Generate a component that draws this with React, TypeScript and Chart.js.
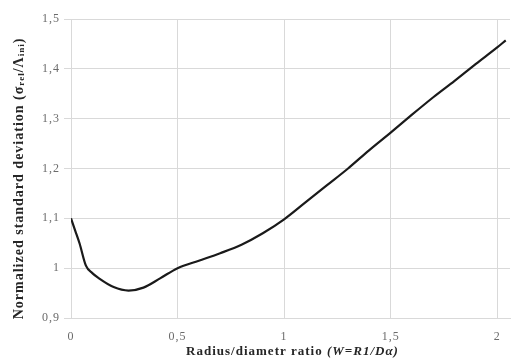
import React, { useEffect, useRef } from "react";
import { Chart, registerables } from "chart.js";

Chart.register(...registerables);

const ratioX = [0, 0.02, 0.04, 0.07, 0.1, 0.13, 0.2, 0.27, 0.34, 0.42, 0.5, 0.6, 0.7, 0.8, 0.9, 1.0, 1.1, 1.2, 1.3, 1.4, 1.5, 1.6, 1.7, 1.8, 1.9, 2.0, 2.04];
const deviationY = [1.1, 1.075, 1.05, 1.005, 0.99, 0.98, 0.962, 0.955, 0.961, 0.98, 1.0, 1.015, 1.03, 1.047, 1.07, 1.098, 1.132, 1.166, 1.2, 1.237, 1.272, 1.308, 1.343, 1.376, 1.41, 1.443, 1.457];
const xTickValues = [0, 0.5, 1, 1.5, 2];
const yTickValues = [0.9, 1, 1.1, 1.2, 1.3, 1.4, 1.5];
const xTitleMain = "Radius/diametr ratio ";
const xTitleItalic = "(W=R1/Dα)";
const yTitleParts = [
  { text: "Normalized standard deviation (σ", sub: false },
  { text: "rel", sub: true },
  { text: "/Λ", sub: false },
  { text: "ini", sub: true },
  { text: ")", sub: false },
];

const fmt = (v: number) => String(Math.round(v * 10) / 10).replace(".", ",");
const FAMILY = "'Liberation Serif', 'Times New Roman', serif";

const titlesPlugin = {
  id: "customTitles",
  beforeDraw(chart: any) {
    (chart.ctx as any).letterSpacing = "1px";
  },
  afterDraw(chart: any) {
    const ctx = chart.ctx as CanvasRenderingContext2D;
    const area = chart.chartArea;
    ctx.save();
    (ctx as any).letterSpacing = "1px";
    ctx.fillStyle = "#262626";
    ctx.textBaseline = "middle";
    ctx.textAlign = "left";
    // x title
    const boldFont = `bold 13px ${FAMILY}`;
    const italFont = `italic bold 13px ${FAMILY}`;
    ctx.font = boldFont;
    const w1 = ctx.measureText(xTitleMain).width;
    ctx.font = italFont;
    const w2 = ctx.measureText(xTitleItalic).width;
    const cx = (area.left + area.right) / 2 + 2;
    let x0 = cx - (w1 + w2) / 2;
    const yx = 352;
    ctx.font = boldFont;
    ctx.fillText(xTitleMain, x0, yx);
    ctx.font = italFont;
    ctx.fillText(xTitleItalic, x0 + w1, yx);
    // y title
    const mainF = `bold 14px ${FAMILY}`;
    const subF = `bold 9px ${FAMILY}`;
    let total = 0;
    const widths = yTitleParts.map((p) => {
      ctx.font = p.sub ? subF : mainF;
      const w = ctx.measureText(p.text).width;
      total += w;
      return w;
    });
    ctx.translate(19, (area.top + area.bottom) / 2 + 10);
    ctx.rotate(-Math.PI / 2);
    let px = -total / 2;
    yTitleParts.forEach((p, i) => {
      ctx.font = p.sub ? subF : mainF;
      ctx.fillText(p.text, px, p.sub ? 3 : 0);
      px += widths[i];
    });
    ctx.restore();
    (ctx as any).letterSpacing = "0px";
  },
};

export default function App() {
  const ref = useRef<HTMLCanvasElement | null>(null);
  useEffect(() => {
    document.body.style.margin = "0";
    const ctx = ref.current!;
    const chart = new Chart(ctx, {
      type: "line",
      data: {
        datasets: [
          {
            data: ratioX.map((x, i) => ({ x, y: deviationY[i] })),
            borderColor: "#1a1a1a",
            borderWidth: 2.2,
            pointRadius: 0,
            cubicInterpolationMode: "monotone",
            fill: false,
          },
        ],
      },
      options: {
        animation: false,
        responsive: false,
        devicePixelRatio: 1,
        layout: { padding: { top: 19, right: 8, left: 0, bottom: 0 } },
        plugins: { legend: { display: false }, tooltip: { enabled: false } },
        scales: {
          x: {
            type: "linear",
            min: 0,
            max: 2.06,
            afterBuildTicks: (s: any) => {
              s.ticks = xTickValues.map((v) => ({ value: v }));
            },
            afterFit: (s: any) => {
              s.height = 42;
            },
            grid: { color: "#d9d9d9", drawTicks: false, lineWidth: 1 },
            border: { display: true, color: "#d9d9d9" },
            ticks: {
              padding: 12,
              color: "#6b6b6b",
              font: { family: FAMILY, size: 12 },
              callback: (v: any) => fmt(Number(v)),
            },
          },
          y: {
            type: "linear",
            min: 0.9,
            max: 1.5,
            afterBuildTicks: (s: any) => {
              s.ticks = yTickValues.map((v) => ({ value: v }));
            },
            afterFit: (s: any) => {
              s.width = 71;
            },
            grid: { color: "#d9d9d9", tickLength: 7, lineWidth: 1 },
            border: { display: true, color: "#d9d9d9" },
            ticks: {
              padding: 4,
              color: "#6b6b6b",
              font: { family: FAMILY, size: 12 },
              callback: (v: any) => fmt(Number(v)),
            },
          },
        },
      },
      plugins: [titlesPlugin],
    });
    return () => chart.destroy();
  }, []);
  return <canvas ref={ref} width={518} height={360} style={{ display: "block" }} />;
}
